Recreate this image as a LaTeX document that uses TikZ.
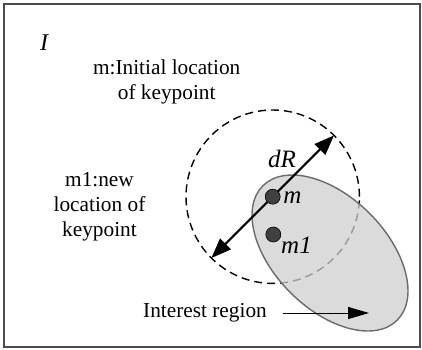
\documentclass[tikz,border=0pt]{standalone}
\usepackage{fontspec}
\setmainfont{Liberation Serif}
\usetikzlibrary{arrows.meta}
\begin{document}
\begin{tikzpicture}[x=1pt,y=-1pt,
  font=\fontsize{21.3}{25}\selectfont,
  frame/.style={draw=black!70,line width=1.3pt},
  dcirc/.style={circle,draw=black,line width=1.4pt,dash pattern=on 8pt off 5pt,minimum size=173.4pt,inner sep=0pt,outer sep=0pt},
  region/.style={fill=black!19,fill opacity=0.74,draw=black!58,line width=1.4pt},
  dra/.style={{Triangle[length=20pt,width=15pt]}-{Triangle[length=20pt,width=15pt]},line width=2pt},
  dot/.style={circle,fill=black!75,draw=black,line width=0.6pt,minimum size=15pt,inner sep=0pt},
  lab/.style={inner sep=0pt,font=\fontsize{25}{28}\selectfont\itshape},
  txt/.style={inner sep=0pt,align=center},
  thin arrow/.style={-{Triangle[length=21pt,width=12pt]},line width=1pt}]
\useasboundingbox (0,0) rectangle (422,349);
\draw[frame] (4,4) rectangle (420,347);
\node[dcirc] (circ) at (272.7,196.7) {};
\path[region,rotate around={-45:(330,253)}] (330,253) ellipse (95 and 56);
\draw[dra] (circ.225) -- (circ.45);
\node[dot] (m) at (272.7,196.7) {};
\node[dot] (m1) at (273.3,234.5) {};
\node[lab] (mlab) at (292.5,198) {m};
\node[lab] (m1lab) at (296.5,245) {m1};
\node[lab] (dR) at (282,158.5) {dR};
\node[lab,font=\fontsize{24}{28}\selectfont\itshape] (I) at (44,42.5) {I};
\node[txt] (t1) at (166.7,82) {m:Initial location\\of keypoint};
\node[txt] (t2) at (99.5,206.5) {m1:new\\location of\\keypoint};
\node[txt,outer xsep=16pt] (ir) at (205,313) {Interest region};
\coordinate (irend) at (369,313);
\draw[thin arrow] (ir) -- (irend);
\end{tikzpicture}
\end{document}
